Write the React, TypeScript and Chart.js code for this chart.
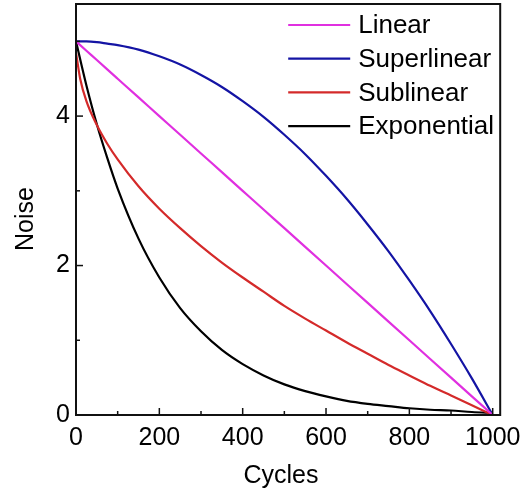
import React, { useEffect, useRef } from 'react';
import { Chart, registerables } from 'chart.js';

Chart.register(...registerables);

const CYCLES = [0, 10, 25, 50, 75, 100, 150, 200, 250, 300, 350, 400, 450, 500, 550, 600, 650, 700, 750, 800, 850, 900, 950, 1000];
const LINEAR = [5, 4.95, 4.875, 4.75, 4.625, 4.5, 4.25, 4.0, 3.75, 3.5, 3.25, 3.0, 2.75, 2.5, 2.25, 2.0, 1.75, 1.5, 1.25, 1.0, 0.75, 0.5, 0.25, 0];
const SUPERLINEAR = [5, 5.0, 5.0, 4.99, 4.97, 4.95, 4.89, 4.8, 4.69, 4.55, 4.39, 4.2, 3.99, 3.75, 3.49, 3.2, 2.89, 2.55, 2.19, 1.8, 1.39, 0.95, 0.49, 0];
const SUBLINEAR = [4.85, 4.5, 4.2, 3.88, 3.63, 3.42, 3.06, 2.76, 2.5, 2.26, 2.04, 1.84, 1.65, 1.46, 1.29, 1.13, 0.97, 0.82, 0.67, 0.53, 0.39, 0.26, 0.13, 0];
const EXPONENTIAL = [5, 4.76, 4.41, 3.89, 3.44, 3.03, 2.36, 1.84, 1.43, 1.12, 0.87, 0.68, 0.53, 0.41, 0.32, 0.25, 0.19, 0.15, 0.12, 0.09, 0.07, 0.06, 0.04, 0.03];

const SERIES_LABELS = ['Linear', 'Superlinear', 'Sublinear', 'Exponential'];
const SERIES_COLORS = ['#E030E0', '#1414A4', '#D42A2A', '#000000'];

const X_TICKS = [0, 100, 200, 300, 400, 500, 600, 700, 800, 900, 1000];
const X_LABELED = [0, 200, 400, 600, 800, 1000];
const Y_TICKS = [0, 1, 2, 3, 4, 5];
const Y_LABELED = [0, 2, 4];

const X_TITLE = 'Cycles';
const Y_TITLE = 'Noise';

const FONT = "'Liberation Sans', Arial, sans-serif";

const decorPlugin = {
  id: 'frameTicksLegend',
  afterDatasetsDraw(chart: any) {
    const { ctx, chartArea: a, scales } = chart;
    ctx.save();
    const seg = (x1: number, y1: number, x2: number, y2: number) => {
      ctx.beginPath();
      ctx.moveTo(x1, y1);
      ctx.lineTo(x2, y2);
      ctx.stroke();
    };
    // inward ticks
    ctx.strokeStyle = '#111';
    ctx.lineWidth = 1.5;
    for (const v of X_TICKS) {
      const px = scales.x.getPixelForValue(v);
      const len = X_LABELED.includes(v) ? 7 : 4;
      seg(px, a.bottom, px, a.bottom - len);
    }
    for (const v of Y_TICKS) {
      const py = scales.y.getPixelForValue(v);
      const len = Y_LABELED.includes(v) ? 7 : 4;
      seg(a.left, py, a.left + len, py);
    }
    // frame
    ctx.lineWidth = 2;
    ctx.strokeStyle = '#111';
    ctx.strokeRect(a.left, a.top, a.right - a.left, a.bottom - a.top);
    // legend
    chart.data.datasets.forEach((ds: any, i: number) => {
      const y = a.top + 21 + i * 33.7;
      ctx.strokeStyle = ds.borderColor;
      ctx.lineWidth = 2.2;
      seg(a.right - 212, y, a.right - 150, y);
      ctx.fillStyle = '#000';
      ctx.font = `26px ${FONT}`;
      ctx.textBaseline = 'middle';
      ctx.textAlign = 'left';
      ctx.fillText(ds.label, a.right - 142, y + 1);
    });
    // axis titles
    ctx.fillStyle = '#000';
    ctx.font = `25px ${FONT}`;
    ctx.textAlign = 'center';
    ctx.textBaseline = 'alphabetic';
    ctx.fillText(X_TITLE, 281, 483);
    ctx.translate(33, 219);
    ctx.rotate(-Math.PI / 2);
    ctx.fillText(Y_TITLE, 0, 0);
    ctx.restore();
  },
};

export default function App() {
  const canvasRef = useRef<HTMLCanvasElement | null>(null);

  useEffect(() => {
    const canvas = canvasRef.current;
    if (!canvas) return;
    const seriesValues = [LINEAR, SUPERLINEAR, SUBLINEAR, EXPONENTIAL];
    const chart = new Chart(canvas, {
      type: 'line',
      data: {
        datasets: seriesValues.map((vals, i) => ({
          label: SERIES_LABELS[i],
          data: CYCLES.map((c, j) => ({ x: c, y: vals[j] })),
          borderColor: SERIES_COLORS[i],
          backgroundColor: SERIES_COLORS[i],
          borderWidth: 2.2,
          pointRadius: 0,
          fill: false,
          cubicInterpolationMode: 'monotone' as const,
        })),
      },
      options: {
        animation: false,
        responsive: false,
        maintainAspectRatio: false,
        layout: { padding: { top: 4, right: 28, left: 0, bottom: 0 } },
        plugins: {
          legend: { display: false },
          tooltip: { enabled: false },
        },
        scales: {
          x: {
            type: 'linear',
            min: 0,
            max: 1018,
            afterBuildTicks: (s: any) => {
              s.ticks = X_TICKS.map((v) => ({ value: v }));
            },
            afterFit: (s: any) => {
              s.height = 76;
            },
            grid: { display: false, drawTicks: false },
            border: { display: false },
            ticks: {
              autoSkip: false,
              maxRotation: 0,
              padding: 8,
              color: '#000',
              font: { family: FONT, size: 25 },
              callback: (v: any) => (X_LABELED.includes(Number(v)) ? String(v) : null),
            },
            title: { display: false, text: X_TITLE },
          },
          y: {
            type: 'linear',
            min: 0,
            max: 5.5,
            afterBuildTicks: (s: any) => {
              s.ticks = Y_TICKS.map((v) => ({ value: v }));
            },
            afterFit: (s: any) => {
              s.width = 76;
              s.paddingTop = 0;
              s.paddingBottom = 0;
            },
            grid: { display: false, drawTicks: false },
            border: { display: false },
            ticks: {
              autoSkip: false,
              padding: 6,
              color: '#000',
              font: { family: FONT, size: 25 },
              callback: (v: any) => (Y_LABELED.includes(Number(v)) ? String(v) : null),
            },
            title: { display: false, text: Y_TITLE },
          },
        },
      },
      plugins: [decorPlugin],
    } as any);
    return () => chart.destroy();
  }, []);

  return (
    <div style={{ position: 'absolute', left: 0, top: 0, width: 529, height: 491, background: '#fff' }}>
      <canvas ref={canvasRef} width={529} height={491} style={{ width: 529, height: 491, display: 'block' }} />
    </div>
  );
}
